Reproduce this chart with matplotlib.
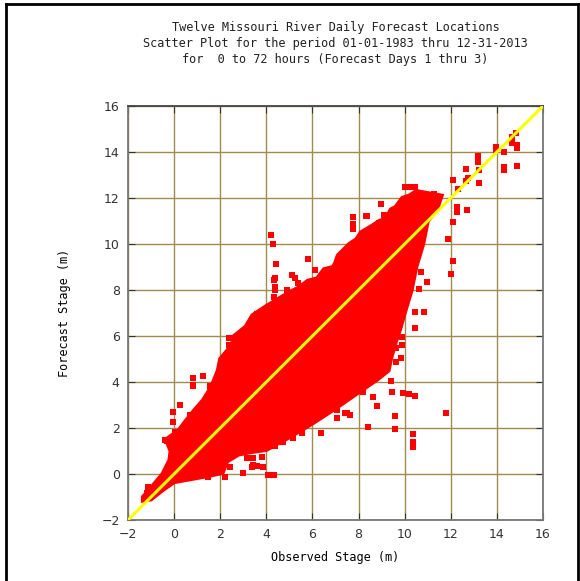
import matplotlib
matplotlib.use("Agg")
import matplotlib.pyplot as plt
from matplotlib.lines import Line2D

# Outline of the dense cloud of forecast/observed pairs (m)
cloud_x = [-1.35, -1.0, -0.5, 0.0, 1.0, 1.5, 2.1, 2.3, 2.8, 3.3, 4.0, 5.0, 6.0, 7.0,
           8.0, 8.8, 9.3, 9.4, 9.6, 9.8, 10.0, 10.3, 10.5, 10.8, 11.0, 11.4, 11.6,
           10.5, 10.2, 9.9, 9.6, 9.4, 9.2, 8.9, 8.6, 8.1, 7.9, 7.6, 7.4, 7.1, 7.0, 6.9,
           6.5, 6.2, 5.8, 5.4, 5.0, 4.5, 4.0, 3.4, 3.1, 2.6, 2.5, 2.0, 1.9, 1.7, 1.5,
           1.25, 0.9, 0.5, 0.2, -0.35, -0.15, -0.2, -0.5, -1.0, -1.35]
cloud_y = [-1.15, -1.1, -0.7, -0.35, -0.17, -0.08, 0.05, 0.55, 0.85, 0.95, 1.05, 1.6,
           2.2, 2.85, 3.55, 4.1, 4.5, 5.0, 5.7, 6.3, 7.0, 8.0, 9.0, 10.0, 11.0, 11.5,
           12.1, 12.3, 12.1, 12.0, 11.6, 11.5, 11.1, 11.0, 10.8, 10.5, 10.2, 10.0, 9.8,
           9.5, 9.2, 9.0, 8.9, 8.5, 8.4, 8.1, 7.9, 7.6, 7.3, 6.9, 6.4, 6.0, 5.6, 5.0,
           4.5, 4.0, 3.6, 3.2, 2.8, 2.3, 1.9, 1.5, 1.0, 0.6, 0.0, -0.6, -1.0]

# Scattered pairs outside the main cloud
obs = [4.2, 4.27, 4.42, 5.79, 6.11, 5.24, 5.1, 5.39, 4.33, 4.37, 4.33, 4.45, 4.88, 5.16,
       14.64, 14.83, 14.64, 14.86, 14.86, 14.86, 14.3, 14.3, 14.3, 13.96, 13.96, 13.19,
       13.19, 13.22, 13.23, 12.64, 12.73, 12.67, 12.08, 12.3, 12.71, 12.28, 12.28, 12.08,
       11.89, 12.08, 12.0, 10.98, 10.69, 10.63, 10.01, 10.23, 10.45, 8.96, 7.77, 7.77,
       7.77, 8.35, 9.12, 9.5, 8.9, 11.27, 11.02, 8.32,
       10.45, 10.85, 10.45, 9.87, 9.87, 9.84, 9.62, 9.62, 9.39, 9.43, 9.94, 10.19, 10.45,
       8.79, 9.58, 9.58, 8.42, 11.79, 10.37, 10.37, 10.37, 7.63, 7.41, 7.05, 8.2, 8.64,
       6.37, 5.53, 5.17, 4.73, 4.37, 3.8, 3.43, 3.36, 3.61, 3.87, 4.08, 4.34, 7.05, 7.48,
       0.83, 1.56, 0.26, -0.06, -0.03, 0.69, 0.55, -0.32, 0.04, 0.69, 1.48, 2.21, 3.0,
       3.43, 3.15, 2.42, 1.77, -1.12, -0.9, -1.19,
       4.37, 4.37, 4.45, 3.87, 3.61, 3.41, 3.84, 3.29, 3.15, 2.39, 2.39, 2.39, 2.1, 2.42,
       0.83, 1.24, 0.83, 1.59, -0.4, 3.8]
fcst = [10.39, 10.0, 9.12, 9.35, 8.87, 8.52, 8.65, 8.29, 8.43, 8.0, 7.71, 7.35, 8.0, 7.87,
        14.67, 14.81, 14.38, 14.3, 14.16, 13.39, 13.33, 13.22, 14.01, 14.2, 14.08, 13.84,
        13.58, 12.64, 13.22, 13.26, 12.86, 12.72, 12.78, 12.39, 11.48, 11.6, 11.37, 10.94,
        10.22, 9.26, 8.68, 8.36, 8.8, 8.04, 12.49, 12.49, 12.46, 11.73, 11.19, 10.86,
        10.64, 11.22, 11.26, 11.41, 10.9, 12.16, 11.91, 11.23,
        7.03, 7.03, 6.33, 5.97, 5.6, 5.03, 5.46, 4.88, 4.06, 3.55, 3.51, 3.47, 3.41,
        2.96, 2.51, 1.96, 2.06, 2.67, 1.74, 1.41, 1.19, 2.57, 2.67, 2.43, 3.58, 3.36,
        1.8, 1.77, 1.55, 1.41, 1.22, 0.72, 0.68, 0.29, 0.35, 0.29, -0.04, -0.04, 2.78, 2.67,
        3.87, 3.83, 3.0, 2.68, 2.27, 2.57, 2.2, 1.43, 1.84, -0.04, -0.12, -0.12, 0.03,
        0.39, 0.68, 0.29, 0.17, -0.55, -0.91, -0.84,
        8.51, 8.14, 7.49, 6.99, 6.94, 6.74, 6.67, 6.45, 6.22, 5.9, 5.61, 5.27, 4.67, 4.96,
        4.16, 4.26, 3.83, 3.83, 1.48, 0.75]

# Perfect-forecast reference line
diag = [-2, 16]

ticks = [-2, 0, 2, 4, 6, 8, 10, 12, 14, 16]

fig = plt.figure(figsize=(5.8, 5.81), dpi=100)
ax = fig.add_axes([128 / 580, 61 / 581, 415 / 580, 414 / 581])

ax.grid(True, color="#a08c50", linewidth=1.0)
ax.set_axisbelow(True)

ax.fill(cloud_x, cloud_y, color="red", linewidth=3, zorder=2)
ax.scatter(obs, fcst, s=16, color="red", marker="s", linewidths=0, zorder=3)
ax.plot(diag, diag, color="yellow", linewidth=2.2, zorder=4)

ax.set_xlim(-2, 16)
ax.set_ylim(-2, 16)
ax.set_xticks(ticks)
ax.set_yticks(ticks)
ax.tick_params(direction="in", length=5, top=True, right=True,
               labelsize=9, colors="#333333", pad=6)
for s in ax.spines.values():
    s.set_color("#777777")
    s.set_linewidth(1.3)
ax.spines["top"].set_color("#444444")

mono = "DejaVu Sans Mono"
ax.set_xlabel("Observed Stage (m)", family=mono, fontsize=8.6, labelpad=7)
ax.set_ylabel("Forecast Stage (m)", family=mono, fontsize=8.6, labelpad=22)

titles = ["Twelve Missouri River Daily Forecast Locations",
          "Scatter Plot for the period 01-01-1983 thru 12-31-2013",
          "for  0 to 72 hours (Forecast Days 1 thru 3)"]
for i, t in enumerate(titles):
    fig.text(335.5 / 580, 1 - (27 + 16 * i) / 581, t, family=mono, fontsize=8.6,
             ha="center", va="center", color="#222222")

# frame round the figure
fig.add_artist(Line2D([5.5 / 580, 5.5 / 580], [0, 1 - 3.5 / 581], color="black", lw=2))
fig.add_artist(Line2D([5.5 / 580, 577.5 / 580], [1 - 3.5 / 581, 1 - 3.5 / 581], color="black", lw=2))
fig.add_artist(Line2D([577.5 / 580, 577.5 / 580], [0, 1 - 3.5 / 581], color="black", lw=2))

fig.savefig("out.png", dpi=100)
